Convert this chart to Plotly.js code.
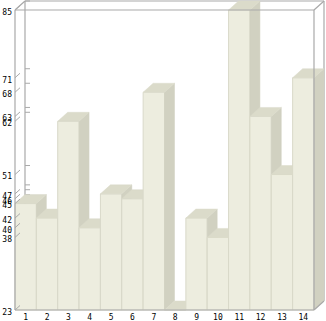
<!DOCTYPE html>
<html>
<head>
<meta charset="utf-8">
<script src="https://cdn.plot.ly/plotly-3.0.1.min.js"></script>
<style>html,body{margin:0;padding:0;background:#fff}#chart{width:326px;height:321px}</style>
</head>
<body>
<div id="chart"></div>
<script>
// ---- data ----
const categories = ['1','2','3','4','5','6','7','8','9','10','11','12','13','14'];
const values = [45, 42, 62, 40, 47, 46, 68, 23, 42, 38, 85, 63, 51, 71];
const yTickVals = [23, 38, 40, 42, 45, 46, 47, 51, 62, 63, 68, 71, 85];
const yTickText = ['23','38','40','42','45','46','47','51','62','63','68','71','85'];
const BASE = 23, TOP = 85;

// ---- geometry (pixel layout) ----
const W = 326, H = 321;
const M = {l: 13, r: 0, t: 0, b: 10};
const frontLeftPx = 15, frontRightPx = 314, frontTopPx = 10, frontBotPx = 310;
const depthPx = 10, depthPy = 9;
const n = categories.length;
const pxX = (frontRightPx - frontLeftPx) / n;
const pxY = (frontBotPx - frontTopPx) / (TOP - BASE);
const xMin = 0.5 - (frontLeftPx - M.l) / pxX;
const xMax = n + 0.5 + (W - M.r - frontRightPx) / pxX;
const yMin = BASE - (H - M.b - frontBotPx) / pxY;
const yMax = TOP + (frontTopPx - M.t) / pxY;
const DX = depthPx / pxX, DY = depthPy / pxY;

const FRONT = '#EDEDDF', SIDE = '#D1D1C1', TOPC = '#DBDBCA', EDGE = '#D9D9C9';
const traces = [];
values.forEach((v, i) => {
  const x = i + 1;
  traces.push({type:'scatter', mode:'lines', fill:'toself', fillcolor: FRONT,
    line:{color: EDGE, width: 1},
    x:[x-0.5, x+0.5, x+0.5, x-0.5, x-0.5], y:[BASE, BASE, v, v, BASE],
    hoverinfo:'skip', showlegend:false});
  traces.push({type:'scatter', mode:'lines', fill:'toself', fillcolor: SIDE,
    line:{color: SIDE, width: 0.5},
    x:[x+0.5, x+0.5+DX, x+0.5+DX, x+0.5, x+0.5], y:[BASE, BASE+DY, v+DY, v, BASE],
    hoverinfo:'skip', showlegend:false});
  traces.push({type:'scatter', mode:'lines', fill:'toself', fillcolor: TOPC,
    line:{color: TOPC, width: 0.5},
    x:[x-0.5, x+0.5, x+0.5+DX, x-0.5+DX, x-0.5], y:[v, v, v+DY, v+DY, v],
    hoverinfo:'skip', showlegend:false});
});

const FR = '#A9A9A9';
const shapes = [];
function seg(x0,y0,x1,y1,layer,w){shapes.push({type:'line',xref:'x',yref:'y',x0,y0,x1,y1,layer,line:{color:FR,width:w||1.2}});}
const L = 0.5, R = n + 0.5;
// back wall
seg(L+DX, BASE+DY, L+DX, TOP+DY, 'below');
seg(L+DX, TOP+DY, R+DX, TOP+DY, 'below');
seg(R+DX, TOP+DY, R+DX, BASE+DY, 'below');
yTickVals.forEach(t => seg(L+DX, t+DY, L+DX+5/pxX, t+DY, 'below', 1));
// front frame
seg(L, BASE, L, TOP, 'above');
seg(L, TOP, R, TOP, 'above');
seg(R, TOP, R, BASE, 'above');
seg(L, BASE, R, BASE, 'above');
seg(L, TOP, L+DX, TOP+DY, 'above');
seg(R, TOP, R+DX, TOP+DY, 'above');
seg(R, BASE, R+DX, BASE+DY, 'above');
yTickVals.forEach(t => seg(L, t, L+DX/2, t+DY/2, 'above', 1));

const tickFont = {family:'DejaVu Sans Mono, monospace', size: 8, color:'#000'};
const layout = {
  width: W, height: H, margin: M,
  paper_bgcolor:'#fff', plot_bgcolor:'#fff', showlegend:false,
  xaxis:{range:[xMin, xMax], tickmode:'array', tickvals: categories.map((c,i)=>i+1), ticktext: categories,
    showgrid:false, zeroline:false, showline:false, ticks:'', tickfont: tickFont, ticklabelstandoff: 0, fixedrange:true},
  yaxis:{range:[yMin, yMax], tickmode:'array', tickvals: yTickVals, ticktext: yTickText,
    showgrid:false, zeroline:false, showline:false, ticks:'', tickfont: tickFont, ticklabelshift: 2, fixedrange:true},
  shapes: shapes
};
Plotly.newPlot('chart', traces, layout, {staticPlot:true, displayModeBar:false});
</script>
</body>
</html>
